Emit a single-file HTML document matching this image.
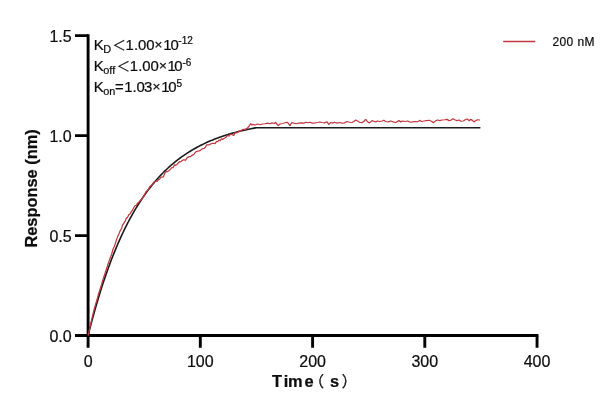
<!DOCTYPE html>
<html><head><meta charset="utf-8"><title>Response vs Time</title>
<style>
html,body{margin:0;padding:0;background:#fff;}
svg{display:block;}
text{font-family:"Liberation Sans","Noto Sans CJK SC",sans-serif;fill:#0d0d0d;stroke:#0d0d0d;stroke-width:0.22px;}
.tick{font-size:16px;}
.b{font-weight:bold;font-size:16.4px;}
.ann{font-size:14.9px;}
.sub{font-size:10.9px;}
.sup{font-size:10px;}
.lt{font-size:13.6px;}
.tm{font-size:13.6px;}
.par{font-size:15px;font-weight:normal;stroke:#111;stroke-width:0.35px;}
</style></head><body>
<svg width="616" height="412" viewBox="0 0 616 412">
<rect width="616" height="412" fill="#ffffff"/>
<!-- axes -->
<g stroke="#000" stroke-width="2.9" fill="none" stroke-linecap="butt">
<path d="M88.1 34.2 V336.85"/>
<path d="M86.75 335.5 H538.4"/>
<path d="M75 35.65 H88.1 M75 135.65 H88.1 M75 235.6 H88.1 M75 335.5 H88.1"/>
<path d="M88.1 335.5 V347.7 M200.3 335.5 V347.7 M312.6 335.5 V347.7 M424.8 335.5 V347.7 M537.05 335.5 V347.7"/>
</g>
<!-- curves -->
<path d="M88.10 335.50 L89.22 331.06 L90.34 326.71 L91.47 322.45 L92.59 318.28 L93.71 314.19 L94.83 310.19 L95.96 306.27 L97.08 302.42 L98.20 298.66 L99.32 294.97 L100.45 291.36 L101.57 287.82 L102.69 284.35 L103.81 280.96 L104.94 277.63 L106.06 274.37 L107.18 271.18 L108.30 268.05 L109.43 264.99 L110.55 261.99 L111.67 259.05 L112.79 256.17 L113.91 253.35 L115.04 250.58 L116.16 247.88 L117.28 245.22 L118.40 242.63 L119.53 240.08 L120.65 237.59 L121.77 235.14 L122.89 232.75 L124.02 230.41 L125.14 228.11 L126.26 225.86 L127.38 223.66 L128.51 221.50 L129.63 219.39 L130.75 217.32 L131.87 215.29 L133.00 213.30 L134.12 211.35 L135.24 209.44 L136.36 207.58 L137.48 205.75 L138.61 203.95 L139.73 202.20 L140.85 200.48 L141.97 198.79 L143.10 197.14 L144.22 195.52 L145.34 193.94 L146.46 192.38 L147.59 190.86 L148.71 189.37 L149.83 187.91 L150.95 186.48 L152.08 185.08 L153.20 183.71 L154.32 182.37 L155.44 181.05 L156.56 179.76 L157.69 178.50 L158.81 177.26 L159.93 176.05 L161.05 174.86 L162.18 173.70 L163.30 172.56 L164.42 171.44 L165.54 170.35 L166.67 169.28 L167.79 168.23 L168.91 167.20 L170.03 166.19 L171.16 165.20 L172.28 164.24 L173.40 163.29 L174.52 162.36 L175.65 161.46 L176.77 160.56 L177.89 159.69 L179.01 158.84 L180.13 158.00 L181.26 157.18 L182.38 156.38 L183.50 155.59 L184.62 154.82 L185.75 154.07 L186.87 153.33 L187.99 152.60 L189.11 151.89 L190.24 151.20 L191.36 150.52 L192.48 149.85 L193.60 149.20 L194.73 148.56 L195.85 147.93 L196.97 147.32 L198.09 146.71 L199.22 146.12 L200.34 145.55 L201.46 144.98 L202.58 144.43 L203.70 143.88 L204.83 143.35 L205.95 142.83 L207.07 142.32 L208.19 141.82 L209.32 141.33 L210.44 140.85 L211.56 140.38 L212.68 139.92 L213.81 139.47 L214.93 139.03 L216.05 138.60 L217.17 138.17 L218.30 137.76 L219.42 137.35 L220.54 136.95 L221.66 136.56 L222.78 136.18 L223.91 135.80 L225.03 135.44 L226.15 135.08 L227.27 134.72 L228.40 134.38 L229.52 134.04 L230.64 133.71 L231.76 133.39 L232.89 133.07 L234.01 132.76 L235.13 132.45 L236.25 132.15 L237.38 131.86 L238.50 131.57 L239.62 131.29 L240.74 131.02 L241.87 130.75 L242.99 130.48 L244.11 130.23 L245.23 129.97 L246.35 129.72 L247.48 129.48 L248.60 129.24 L249.72 129.01 L250.84 128.78 L251.97 128.56 L253.09 128.34 L254.21 128.12 L255.33 127.91 L256.46 127.71 L480.40 127.71" fill="none" stroke="#1a1a1a" stroke-width="1.6" stroke-linejoin="round"/>
<path d="M88.10 335.50 L89.33 330.09 L90.57 324.72 L91.80 319.18 L93.04 313.89 L94.27 308.90 L95.51 304.55 L96.74 300.59 L97.98 295.93 L99.21 291.93 L100.45 288.03 L101.68 283.82 L102.92 279.61 L104.15 275.91 L105.38 272.08 L106.62 268.81 L107.85 264.44 L109.09 261.05 L110.32 257.46 L111.56 254.70 L112.79 249.82 L114.03 247.08 L115.26 244.11 L116.50 239.61 L117.73 236.57 L118.97 233.80 L120.20 230.67 L121.43 228.88 L122.67 224.86 L123.90 223.15 L125.14 221.09 L126.37 218.14 L127.61 217.36 L128.84 214.58 L130.08 213.97 L131.31 211.65 L132.55 210.26 L133.78 207.50 L135.02 205.84 L136.25 205.28 L137.48 203.33 L138.72 202.42 L139.95 200.77 L141.19 199.82 L142.42 198.43 L143.66 196.70 L144.89 193.97 L146.13 191.39 L147.36 190.53 L148.60 189.20 L149.83 186.47 L151.07 185.69 L152.30 184.26 L153.53 182.68 L154.77 181.52 L156.00 180.91 L157.24 181.27 L158.47 179.71 L159.71 178.94 L160.94 177.00 L162.18 177.06 L163.41 176.83 L164.65 173.78 L165.88 171.50 L167.12 171.81 L168.35 171.03 L169.58 170.11 L170.82 168.92 L172.05 167.52 L173.29 167.31 L174.52 164.78 L175.76 165.31 L176.99 164.47 L178.23 162.98 L179.46 161.70 L180.70 161.89 L181.93 160.84 L183.17 159.90 L184.40 159.85 L185.63 160.24 L186.87 158.00 L188.10 157.12 L189.34 156.61 L190.57 156.68 L191.81 155.41 L193.04 154.89 L194.28 153.94 L195.51 152.14 L196.75 151.26 L197.98 151.24 L199.22 150.97 L200.45 150.16 L201.68 149.22 L202.92 148.51 L204.15 148.31 L205.39 147.23 L206.62 144.88 L207.86 144.98 L209.09 144.93 L210.33 144.04 L211.56 143.70 L212.80 143.28 L214.03 143.41 L215.27 143.54 L216.50 141.33 L217.73 141.74 L218.97 140.13 L220.20 140.59 L221.44 138.74 L222.67 139.37 L223.91 138.50 L225.14 137.81 L226.38 136.86 L227.61 135.33 L228.85 136.01 L230.08 134.57 L231.32 134.26 L232.55 134.93 L233.78 135.45 L235.02 132.63 L236.25 132.81 L237.49 132.66 L238.72 131.23 L239.96 131.12 L241.19 130.67 L242.43 129.53 L243.66 129.41 L245.00 129.38 L247.50 128.12 L249.38 125.62 L250.62 123.75 L251.88 125.00 L253.12 124.38 L255.00 125.00 L257.50 124.00 L260.00 124.75 L262.50 124.00 L265.00 123.75 L267.50 123.12 L270.00 123.75 L271.88 122.88 L274.38 123.50 L275.62 122.50 L278.12 125.62 L280.00 124.00 L282.50 123.50 L285.00 122.75 L286.88 122.25 L288.12 123.12 L290.00 125.62 L291.88 122.50 L293.75 123.12 L296.25 123.75 L298.75 123.12 L301.25 122.88 L303.75 123.12 L306.25 122.25 L308.12 122.75 L310.00 122.25 L312.50 123.12 L315.00 122.88 L317.50 122.50 L320.00 122.00 L322.00 122.50 L324.50 122.88 L327.00 121.88 L328.88 124.38 L330.75 122.50 L332.62 123.12 L334.50 122.25 L337.00 123.12 L339.50 122.50 L342.00 123.12 L344.50 122.88 L347.00 121.50 L349.50 122.25 L352.00 122.50 L353.88 121.50 L355.75 120.00 L357.62 121.00 L359.50 122.25 L362.00 122.75 L363.88 121.25 L365.75 119.38 L367.62 121.88 L369.50 122.88 L372.00 120.62 L373.88 121.25 L375.75 121.88 L377.62 121.00 L379.50 121.50 L382.00 121.00 L383.88 120.25 L385.75 121.50 L388.25 121.88 L390.75 121.00 L393.25 121.88 L395.75 122.50 L399.00 120.62 L400.88 121.88 L402.75 121.00 L405.25 121.50 L407.75 121.00 L410.25 122.25 L412.75 121.88 L415.25 121.50 L417.75 121.88 L419.62 120.38 L421.50 121.50 L424.00 121.00 L426.50 120.62 L429.00 120.25 L431.50 121.25 L433.38 122.75 L435.88 120.62 L437.75 120.00 L439.62 120.62 L442.12 120.00 L444.62 119.75 L447.12 119.38 L449.00 120.62 L450.88 120.25 L453.00 118.75 L455.25 120.00 L457.12 120.62 L459.00 120.00 L460.88 121.25 L463.38 121.00 L465.25 119.75 L467.12 119.00 L469.00 120.62 L470.88 119.38 L472.75 120.62 L474.00 121.88 L475.50 120.75 L477.50 119.75 L480.00 120.00" fill="none" stroke="#c03840" stroke-width="1.25" stroke-linejoin="round"/>
<!-- y tick labels -->
<g class="tick" text-anchor="end">
<text x="71.7" y="41.8">1.5</text>
<text x="71.7" y="141.8">1.0</text>
<text x="71.7" y="241.8">0.5</text>
<text x="71.7" y="341.8">0.0</text>
</g>
<g class="tick" text-anchor="middle">
<text x="88.1" y="367">0</text>
<text x="200.3" y="367">100</text>
<text x="312.6" y="367">200</text>
<text x="424.8" y="367">300</text>
<text x="537.05" y="367">400</text>
</g>
<!-- axis titles -->
<text class="b" transform="translate(37.2 247.6) rotate(-90)">Response (nm)</text>
<text class="b" y="386.6" x="272.1 283.8 288.1 304.6 308.9 330 341.7">Time<tspan class="par" dy="0.7">（</tspan><tspan dy="-0.7">s</tspan><tspan class="par" dy="0.7">）</tspan></text>
<!-- annotations -->
<text class="ann" y="50"><tspan x="93.7">K</tspan><tspan class="sub" x="103.3" dy="2.8">D</tspan><tspan class="lt" x="112.2" dy="-3.1">＜</tspan><tspan x="125.5 133.9 138 146.2 154.5 163.2 170.5" dy="0.3">1.00<tspan class="tm" dy="-0.6">×</tspan><tspan dy="0.6">1</tspan>0</tspan><tspan class="sup" x="178.3" dy="-5.6">-12</tspan></text>
<text class="ann" y="71"><tspan x="93.7">K</tspan><tspan class="sub" x="103.3" dy="2.8">off</tspan><tspan class="lt" x="116.5" dy="-3.1">＜</tspan><tspan x="129.8 138.2 142.3 150.5 159 167.5 174.2" dy="0.3">1.00<tspan class="tm" dy="-0.6">×</tspan><tspan dy="0.6">1</tspan>0</tspan><tspan class="sup" x="182.5" dy="-4.7">-6</tspan></text>
<text class="ann" y="92"><tspan x="93.7">K</tspan><tspan class="sub" x="103.3" dy="2.8">on</tspan><tspan x="115" dy="-2.8">=</tspan><tspan x="124.2 132.4 136.4 144.1 152.6 161.2 168.2">1.03<tspan class="tm" dy="-0.6">×</tspan><tspan dy="0.6">1</tspan>0</tspan><tspan class="sup" x="176.5" dy="-4.7">5</tspan></text>
<!-- legend -->
<path d="M503.2 41.5 H535.3" stroke="#c03840" stroke-width="1.3" fill="none"/>
<text x="552.5" y="46.1" font-size="12px" letter-spacing="0.38">200 nM</text>
</svg>
</body></html>
